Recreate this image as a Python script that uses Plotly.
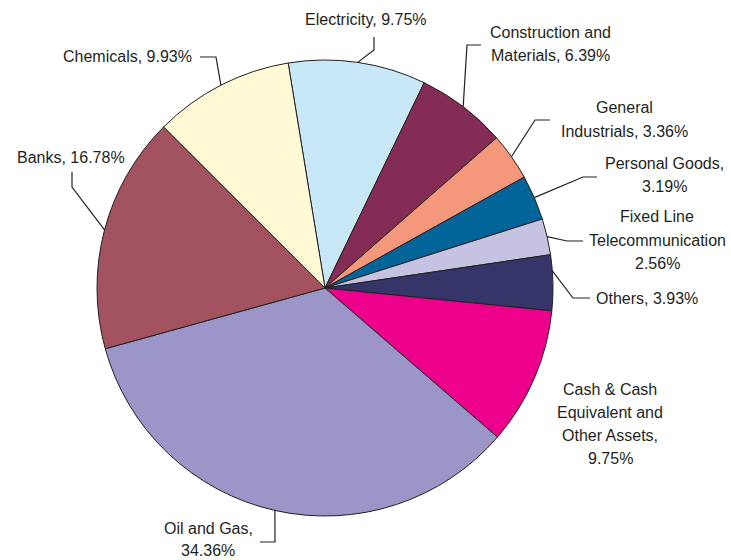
import math
import plotly.graph_objects as go

# ---- data ----
sectors = ["Electricity", "Construction and Materials", "General Industrials",
           "Personal Goods", "Fixed Line Telecommunication", "Others",
           "Cash & Cash Equivalent and Other Assets", "Oil and Gas", "Banks", "Chemicals"]
shares = [9.75, 6.39, 3.36, 3.19, 2.56, 3.93, 9.75, 34.36, 16.78, 9.93]
label_lines = [
    ["Electricity, 9.75%"],
    ["Construction and", "Materials, 6.39%"],
    ["General", "Industrials, 3.36%"],
    ["Personal Goods,", "3.19%"],
    ["Fixed Line", "Telecommunication", "2.56%"],
    ["Others, 3.93%"],
    ["Cash & Cash", "Equivalent and", "Other Assets,", "9.75%"],
    ["Oil and Gas,", "34.36%"],
    ["Banks, 16.78%"],
    ["Chemicals, 9.93%"],
]
colors = ["#c8e8f8", "#842c56", "#f5977b", "#02659a", "#c5c3e1",
          "#35356a", "#ec008c", "#9c95c8", "#a2535f", "#fff9d6"]

# ---- layout constants (pixels) ----
W, H = 731, 560
CX, CY, R = 325, 288, 228
ROTATION = -9.3
LINE_H = 23.2
# label block: (center x, first line center y, line height)
label_pos = [(366, 20, LINE_H), (550, 32, LINE_H), (624, 108, LINE_H), (664, 163, LINE_H),
             (657, 217, LINE_H), (647, 298, LINE_H), (610, 389, LINE_H), (208, 528, 22),
             (71, 157, LINE_H), (127, 57, LINE_H)]
# leader: text end point, elbow point, angle tweak of the anchor on the rim (None = no leader)
leaders = [((374, 37), (374, 50), 0), ((481, 45), (467, 45), 0), ((550, 120), (535, 120), 0),
           ((597, 177), (583, 177), 0), ((583, 241), (567, 241), 0), ((590, 298), (573, 298), -3),
           None, ((260, 542), (275, 542), 0), ((72, 172), (72, 187), 0), ((200, 57), (216, 57), 0)]

px = lambda x: x / W
py = lambda y: 1 - y / H

fig = go.Figure(go.Pie(
    labels=sectors, values=shares, sort=False, direction="clockwise",
    rotation=ROTATION, textinfo="none", hoverinfo="label+percent",
    marker=dict(colors=colors, line=dict(color="#231f20", width=1)),
    domain=dict(x=[px(CX - R), px(CX + R)], y=[py(CY + R), py(CY - R)]),
    showlegend=False,
))

total = sum(shares)
annotations = []
shapes = []
cum = 0.0
for i, v in enumerate(shares):
    mid_deg = ROTATION + 360 * (cum + v / 2) / total
    cum += v
    lx, ly, lh = label_pos[i]
    for k, line in enumerate(label_lines[i]):
        annotations.append(dict(
            x=px(lx), y=py(ly + k * lh), xref="paper", yref="paper",
            text=line, showarrow=False, xanchor="center", yanchor="middle",
            font=dict(family="Liberation Sans, Arial, sans-serif", size=16, color="#231f20"),
        ))
    if leaders[i] is not None:
        (x0, y0), (x1, y1), tweak = leaders[i]
        mid = math.radians(mid_deg + tweak)
        ax, ay = CX + R * math.sin(mid), CY - R * math.cos(mid)
        shapes.append(dict(
            type="path", xref="paper", yref="paper",
            path=f"M {px(x0)},{py(y0)} L {px(x1)},{py(y1)} L {px(ax)},{py(ay)}",
            line=dict(color="#231f20", width=1.2),
        ))

fig.update_layout(
    width=W, height=H, margin=dict(l=0, r=0, t=0, b=0),
    paper_bgcolor="white", plot_bgcolor="white",
    annotations=annotations, shapes=shapes,
)
fig.write_html("out.html")
